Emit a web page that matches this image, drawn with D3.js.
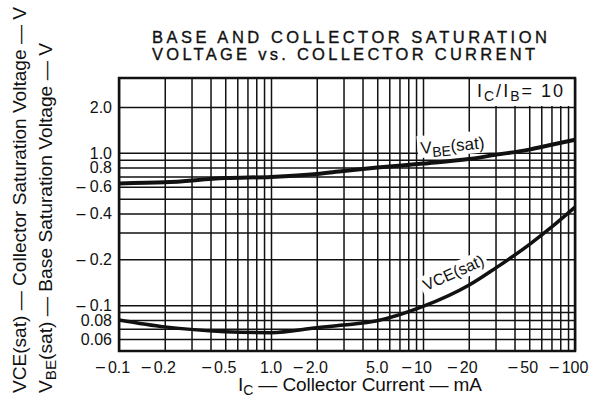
<!DOCTYPE html>
<html>
<head>
<meta charset="utf-8">
<script src="https://cdn.jsdelivr.net/npm/d3@7"></script>
<style>
body { margin: 0; background: #fff; }
svg text { font-family: "Liberation Sans", Arial, sans-serif; fill: #111; }
</style>
</head>
<body>
<svg id="chart" width="591" height="404"></svg>
<script>
"use strict";

// Curves, Ic/Ib = 10
const currentMA = [0.1, 0.2, 0.5, 1, 2, 3, 5, 10, 20, 30, 50, 70, 100];
const vbeSat = [0.63, 0.64, 0.683, 0.695, 0.726, 0.76, 0.80, 0.85, 0.91, 0.97, 1.05, 1.13, 1.22];
const vceSat = [0.08, 0.072, 0.067, 0.066, 0.071, 0.074, 0.079, 0.098, 0.135, 0.175, 0.25, 0.325, 0.44];

const xTicks = [0.1, 0.2, 0.5, 1, 2, 5, 10, 20, 50, 100];
const xTickLabels = ["– 0.1", "– 0.2", "– 0.5", "1.0", "– 2.0", "5.0", "– 10", "– 20", "– 50", "– 100"];
const yTicks = [2, 1, 0.8, 0.6, 0.4, 0.2, 0.1, 0.08, 0.06];
const yTickLabels = ["2.0", "1.0", "0.8", "– 0.6", "– 0.4", "– 0.2", "– 0.1", "0.08", "0.06"];
const yGrid = [2, 1, 0.9, 0.8, 0.7, 0.6, 0.5, 0.4, 0.3, 0.2, 0.1, 0.09, 0.08, 0.07, 0.06];

const titleLines = ["BASE AND COLLECTOR SATURATION", "VOLTAGE vs. COLLECTOR CURRENT"];

var svg = d3.select("#chart");
var box = { left: 119, right: 575, top: 78, bottom: 351 };

var x = d3.scaleLog().domain([0.1, 100]).range([box.left, box.right]);
var y = d3.scaleLog().domain([0.05, 3.1]).range([box.bottom, box.top]);

// Title, stretched out like the printed one
svg.selectAll(".title").data(titleLines).enter().append("text")
    .attr("class", "title")
    .attr("x", 152).attr("y", function(d, i){ return 43 + i * 17; })
    .attr("textLength", function(d, i){ return i == 0 ? 395 : 383; })
    .attr("lengthAdjust", "spacing")
    .style("font-size", "16.5px").style("stroke", "#111").style("stroke-width", 0.35)
    .text(function(d){ return d; });

// Grid: every 1..9 on x, selected values on y
var grid = svg.append("g").attr("class", "grid");
grid.append("g")
    .attr("transform", "translate(0," + box.bottom + ")")
    .call(d3.axisBottom(x).tickValues(x.ticks()).tickSize(-(box.bottom - box.top)).tickFormat(""));
grid.append("g")
    .attr("transform", "translate(" + box.left + ",0)")
    .call(d3.axisLeft(y).tickValues(yGrid).tickSize(-(box.right - box.left)).tickFormat(""));
grid.selectAll(".domain").remove();
grid.selectAll("line").attr("stroke", "#111").attr("stroke-width", 1.5);

// Inset box in the upper right clears the grid
svg.append("rect").attr("x", 471).attr("y", box.top).attr("width", box.right - 471).attr("height", 28).attr("fill", "#fff");
var inset = svg.append("text").attr("x", 477).attr("y", 97).style("font-size", "18px")
    .attr("textLength", 86).attr("lengthAdjust", "spacing");
inset.append("tspan").text("I");
inset.append("tspan").attr("dy", 4).style("font-size", "14px").text("C");
inset.append("tspan").attr("dy", -4).text("/I");
inset.append("tspan").attr("dy", 4).style("font-size", "14px").text("B");
inset.append("tspan").attr("dy", -4).text("= 10");

// Label backgrounds
var vbeLabel = svg.append("g").attr("transform", "translate(421,154) rotate(-5)");
vbeLabel.append("rect").attr("x", -3).attr("y", -18).attr("width", 75).attr("height", 22).attr("fill", "#fff");
var vceLabel = svg.append("g").attr("transform", "translate(426,291) rotate(-24)");
vceLabel.append("rect").attr("x", -3).attr("y", -15).attr("width", 71).attr("height", 19).attr("fill", "#fff");

// Curves
var line = d3.line()
    .x(function(d){ return x(d[0]); })
    .y(function(d){ return y(d[1]); })
    .curve(d3.curveMonotoneX);
svg.append("path").datum(d3.zip(currentMA, vbeSat))
    .attr("d", line).attr("fill", "none").attr("stroke", "#111").attr("stroke-width", 4);
svg.append("path").datum(d3.zip(currentMA, vceSat))
    .attr("d", line).attr("fill", "none").attr("stroke", "#111").attr("stroke-width", 3.5);

var vbeText = vbeLabel.append("text").style("font-size", "17px");
vbeText.append("tspan").text("V");
vbeText.append("tspan").attr("dy", 4).style("font-size", "14px").text("BE");
vbeText.append("tspan").attr("dy", -4).text("(sat)");
vceLabel.append("text").style("font-size", "16px").text("VCE(sat)");

// Frame
svg.append("rect")
    .attr("x", box.left).attr("y", box.top)
    .attr("width", box.right - box.left).attr("height", box.bottom - box.top)
    .attr("fill", "none").attr("stroke", "#111").attr("stroke-width", 2.5);

// Tick labels: number centred on its line, old style dash in front
xTicks.forEach(function(v, i){
    var parts = xTickLabels[i].split("– ");
    var num = parts[parts.length - 1];
    var t = svg.append("text").attr("x", x(v)).attr("y", 373)
        .attr("text-anchor", "middle").style("font-size", "16px").text(num);
    if (parts.length > 1){
        var w = t.node().getComputedTextLength();
        svg.append("text").attr("x", x(v) - w / 2 - 3).attr("y", 372)
            .attr("text-anchor", "end").style("font-size", "16px").text("–");
    }
});
yTicks.forEach(function(v, i){
    svg.append("text").attr("x", 112).attr("y", y(v)).attr("dy", "0.36em")
        .attr("text-anchor", "end").style("font-size", "16px").text(yTickLabels[i]);
});

// Axis titles
var xt = svg.append("text").attr("x", 238).attr("y", 391).style("font-size", "19px")
    .attr("textLength", 244).attr("lengthAdjust", "spacing");
xt.append("tspan").text("I");
xt.append("tspan").attr("dy", 4).style("font-size", "14px").text("C");
xt.append("tspan").attr("dy", -4).text(" — Collector Current — mA");

svg.append("text").attr("transform", "translate(26,393) rotate(-90)")
    .attr("textLength", 386).attr("lengthAdjust", "spacingAndGlyphs")
    .style("font-size", "19px").text("VCE(sat) — Collector Saturation Voltage — V");
var yt2 = svg.append("text").attr("transform", "translate(52,393) rotate(-90)").style("font-size", "19px")
    .attr("textLength", 350).attr("lengthAdjust", "spacingAndGlyphs");
yt2.append("tspan").text("V");
yt2.append("tspan").attr("dy", 4).style("font-size", "15px").text("BE");
yt2.append("tspan").attr("dy", -4).text("(sat) — Base Saturation Voltage — V");
</script>
</body>
</html>
